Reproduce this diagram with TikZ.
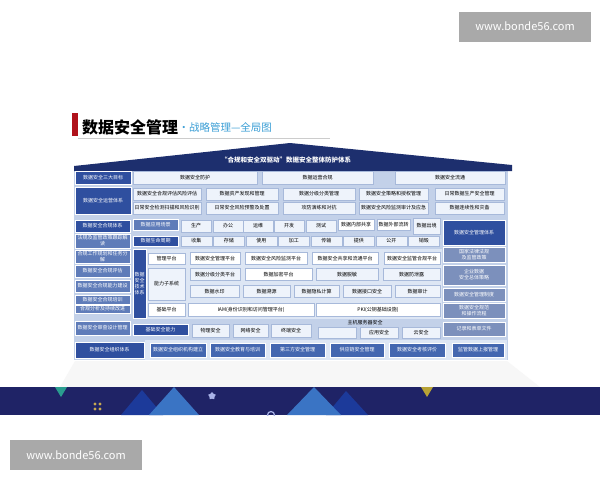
\documentclass[tikz,border=0pt]{standalone}
\usepackage{fontspec}
\setmainfont{Noto Sans CJK SC}
\usetikzlibrary{shapes.geometric}

\definecolor{headblue}{HTML}{2F4F9F}
\definecolor{sideblue}{HTML}{5F7CB9}
\definecolor{rightgray}{HTML}{7C90BC}
\definecolor{orgblue}{HTML}{4467B0}
\definecolor{bodybg}{HTML}{C3D1E9}
\definecolor{panelbg}{HTML}{DDE6F4}
\definecolor{cellfill}{HTML}{EEF3FB}
\definecolor{cellline}{HTML}{A7B9DA}
\definecolor{roofblue}{HTML}{1D2F6E}
\definecolor{footnavy}{HTML}{1F2366}
\definecolor{titleblue}{HTML}{3C9FD6}
\definecolor{wmgray}{HTML}{A9A9A9}
\definecolor{titlered}{HTML}{B0121B}
\definecolor{decoteal}{HTML}{2A9D8F}
\definecolor{decoolive}{HTML}{B8A336}
\definecolor{decodark}{HTML}{1C3A9A}
\definecolor{decolight}{HTML}{3A74C4}
\definecolor{decogold}{HTML}{C8A951}
\definecolor{decolilac}{HTML}{A9B3E8}
\newcommand{\cellfont}{\fontsize{5}{6}\selectfont}

\begin{document}
\begin{tikzpicture}[x=1pt,y=-1pt]
\tikzstyle{every node}+=[inner sep=0pt]
\tikzstyle{cell}=[rectangle, draw=cellline, fill=cellfill, font=\cellfont, align=center, minimum height=12pt]
\tikzstyle{whitecell}=[cell, fill=white]
\tikzstyle{headbox}=[rectangle, draw=white, fill=headblue, text=white, font=\cellfont, align=center]
\tikzstyle{sidebox}=[rectangle, draw=white, fill=sideblue, text=white, font=\cellfont, align=center]
\tikzstyle{rightbox}=[rectangle, draw=white, fill=rightgray, text=white, font=\cellfont, align=center]
\tikzstyle{orgbox}=[rectangle, draw=white, fill=orgblue, text=white, font=\cellfont, minimum height=14pt]
\tikzstyle{watermark}=[rectangle, fill=wmgray, text=white, font=\fontsize{11}{13}\selectfont, minimum width=132pt, minimum height=30pt]
\useasboundingbox (0,0) rectangle (600,480);
\fill[white] (0,0) rectangle (600,480);

% watermarks
\node[watermark] (wmtop) at (525,26.5) {www.bonde56.com};
\node[watermark] (wmbottom) at (76,455) {www.bonde56.com};

% title
\fill[titlered] (72,113) rectangle (78,136);
\node[anchor=west, font=\fontsize{16}{18}\selectfont\bfseries] (title) at (82,127.5) {数据安全管理};
\node[anchor=west, text=titleblue, font=\fontsize{10.5}{12}\selectfont] (subtitle) at (title.east) {•战略管理—全局图};
\draw[gray!40, line width=0.8pt] (78,138.5) -- (330,138.5);

% roof and body
\fill[bodybg] (74,168) rectangle (508,360);
\fill[roofblue] (74,171) -- (74,166) -- (290,143) -- (512,165) -- (512,171) -- cycle;
\node[text=white, font=\fontsize{6.5}{8}\selectfont\bfseries] (roof) at (286,160) {“合规和安全双驱动”数据安全整体防护体系};

% goals
\node[headbox, minimum width=56pt, minimum height=13pt] (goal) at (103,177.5) {数据安全三大目标};
\node[cell, minimum width=124pt, minimum height=13pt] (goal1) at (195,177.5) {数据安全防护};
\node[cell, minimum width=111pt, minimum height=13pt] (goal2) at (317.5,177.5) {数据运营合规};
\node[cell, minimum width=110pt, minimum height=13pt] (goal3) at (450,177.5) {数据安全流通};

% operation system
\node[headbox, minimum width=56pt, minimum height=27pt] (ops) at (103,200.5) {数据安全运营体系};
\node[cell, minimum width=68pt] (ops1) at (167,194) {数据安全合规评估风险评估};
\node[cell, minimum width=72pt] (ops2) at (242,194) {数据资产发现和管理};
\node[cell, minimum width=72pt] (ops3) at (319,194) {数据分级分类管理};
\node[cell, minimum width=69pt] (ops4) at (393.5,194) {数据安全策略和授权管理};
\node[cell, minimum width=69pt] (ops5) at (469.5,194) {日常数据生产安全管理};
\node[cell, minimum width=68pt] (ops6) at (167,208) {日常安全检测扫描和风险识别};
\node[cell, minimum width=72pt] (ops7) at (242,208) {日常安全风险预警及处置};
\node[cell, minimum width=72pt] (ops8) at (319,208) {攻防演练和对抗};
\node[cell, minimum width=69pt] (ops9) at (393.5,208) {数据安全风险监测审计及应急};
\node[cell, minimum width=69pt] (ops10) at (469.5,208) {数据连续性和灾备};

% compliance column
\node[headbox, minimum width=55pt, minimum height=12pt] (comp) at (102.5,226) {数据安全合规体系};
\node[sidebox, minimum width=55pt, minimum height=14pt] (comp1) at (102.5,241) {法规及监管政策跟踪解\\读};
\node[sidebox, minimum width=55pt, minimum height=13pt] (comp2) at (102.5,256.5) {合规工作规划和任务分\\解};
\node[sidebox, minimum width=55pt, minimum height=12pt] (comp3) at (102.5,271) {数据安全合规评估};
\node[sidebox, minimum width=55pt, minimum height=12pt] (comp4) at (102.5,286) {数据安全合规能力建设};
\node[sidebox, minimum width=55pt, minimum height=9pt] (comp5) at (102.5,299.5) {数据安全合规培训};
\node[sidebox, minimum width=55pt, minimum height=8pt] (comp6) at (102.5,309) {合规分析及持续改进};
\node[sidebox, minimum width=55pt, minimum height=14pt] (comp7) at (102.5,328) {数据安全审查设计管理};

% scenes and life cycle
\node[sidebox, minimum width=45pt, minimum height=11pt] (scene) at (155.5,224.5) {数据应用场景};
\foreach \name/\cx [count=\i] in {生产/196, 办公/228, 运维/258, 开发/289, 测试/321}
  \node[cell, minimum width=30pt] (scene\i) at (\cx,226) {\name};
\node[whitecell, minimum width=36pt, minimum height=11pt] (share) at (356,224.5) {数据内部共享};
\node[whitecell, minimum width=33pt, minimum height=11pt] (transfer) at (393.5,224.5) {数据外部流转};
\node[cell, minimum width=27pt, minimum height=16pt] (export) at (426.5,226) {数据出境};
\node[headbox, minimum width=45pt, minimum height=10pt] (life) at (155.5,241) {数据生命周期};
\foreach \name [count=\i] in {收集, 存储, 使用, 加工, 传输, 提供, 公开, 销毁}
  \node[cell, minimum width=31pt, minimum height=10pt] (life\i) at (196.25+32.5*\i-32.5,241) {\name};

% technology system
\fill[panelbg] (146,249) rectangle (442,319);
\node[headbox, minimum width=13pt, minimum height=69pt] (tech) at (139.5,283.5) {数据\\安全\\技术\\体系};
\node[whitecell, minimum width=37pt, minimum height=11pt] (mgmt) at (166.5,258.5) {管理平台};
\node[whitecell, minimum width=50pt] (mgmt1) at (215,258.5) {数据安全管理平台};
\node[whitecell, minimum width=62pt] (mgmt2) at (276,258.5) {数据安全风险监测平台};
\node[whitecell, minimum width=66pt] (mgmt3) at (345,258.5) {数据安全共享和流通平台};
\node[whitecell, minimum width=56pt] (mgmt4) at (412,258.5) {数据安全监管合规平台};
\node[cell, minimum width=37pt, minimum height=32pt] (cap) at (166.5,284) {能力子系统};
\node[cell, minimum width=50pt] (cap1) at (215,274.5) {数据分级分类平台};
\node[whitecell, minimum width=67pt] (cap2) at (278.5,274.5) {数据加密平台};
\node[cell, minimum width=62pt] (cap3) at (347,274.5) {数据脱敏};
\node[cell, minimum width=57pt] (cap4) at (411.5,274.5) {数据防泄露};
\node[cell, minimum width=49pt] (cap5) at (214.5,291.5) {数据水印};
\node[cell, minimum width=47pt] (cap6) at (266.5,291.5) {数据溯源};
\node[cell, minimum width=45pt] (cap7) at (316.5,291.5) {数据隐私计算};
\node[cell, minimum width=48pt] (cap8) at (367,291.5) {数据接口安全};
\node[cell, minimum width=45pt] (cap9) at (417.5,291.5) {数据审计};
\node[whitecell, minimum width=37pt, minimum height=13pt] (base) at (166.5,309.5) {基础平台};
\node[whitecell, minimum width=126pt, minimum height=13pt] (iam) at (251,309.5) {IAM(身份识别和访问管理平台)};
\node[whitecell, minimum width=124pt, minimum height=13pt] (pki) at (378,309.5) {PKI(公钥基础设施)};

% basic security
\node[headbox, minimum width=55pt, minimum height=11pt] (basic) at (160.5,329.5) {基础安全能力};
\node[cell, minimum width=37pt, minimum height=13pt] (basic1) at (210.5,330.5) {物理安全};
\node[cell, minimum width=35pt, minimum height=13pt] (basic2) at (250.5,330.5) {网络安全};
\node[cell, minimum width=40pt, minimum height=13pt] (basic3) at (291,330.5) {终端安全};
\node[font=\cellfont] (host) at (365,322.5) {主机服务器安全};
\node[cell, minimum width=38pt, minimum height=11pt] (basic4) at (337,332.5) {};
\node[cell, minimum width=38pt, minimum height=11pt] (basic5) at (379,332.5) {应用安全};
\node[cell, minimum width=38pt, minimum height=11pt] (basic6) at (421,332.5) {云安全};

% management column
\node[headbox, minimum width=62pt, minimum height=25pt] (man) at (474,232.5) {数据安全管理体系};
\node[rightbox, minimum width=62pt, minimum height=15pt] (man1) at (474,254.5) {国家法律法规\\及监管政策};
\node[rightbox, minimum width=62pt, minimum height=20pt] (man2) at (474,275) {企业数据\\安全总体策略};
\node[rightbox, minimum width=62pt, minimum height=13pt] (man3) at (474,294.5) {数据安全管理制度};
\node[rightbox, minimum width=62pt, minimum height=15pt] (man4) at (474,310.5) {数据安全规范\\和操作流程};
\node[rightbox, minimum width=62pt, minimum height=14pt] (man5) at (474,329) {记录和表单文件};

% organisation
\fill[panelbg] (145,340) rectangle (507,360);
\node[headbox, minimum width=69pt, minimum height=16pt] (org) at (109.5,350) {数据安全组织体系};
\node[orgbox, minimum width=56pt] (org1) at (178,350) {数据安全组织机构建立};
\node[orgbox, minimum width=55pt] (org2) at (237.5,350) {数据安全教育与培训};
\node[orgbox, minimum width=55pt] (org3) at (297.5,350) {第三方安全管理};
\node[orgbox, minimum width=54pt] (org4) at (357,350) {供应链安全管理};
\node[orgbox, minimum width=56pt] (org5) at (417,350) {数据安全考核评价};
\node[orgbox, minimum width=52pt] (org6) at (478,350) {监管数据上报管理};

% footer
\fill[gray!6] (60,387) -- (75,361) -- (507,361) -- (540,387) -- cycle;
\fill[footnavy] (0,387) rectangle (600,415);
\fill[decoteal] (55,387) -- (67,387) -- (61,397) -- cycle;
\fill[decoolive] (421,387) -- (433,387) -- (427,397) -- cycle;
\fill[decodark] (121,415) -- (142,390) -- (163,415) -- cycle;
\fill[decolight] (149,415) -- (174,387) -- (199,415) -- cycle;
\fill[decodark] (326,415) -- (346,391) -- (368,415) -- cycle;
\fill[decolight] (287,415) -- (314,387) -- (341,415) -- cycle;
\foreach \dx in {0,5}
  \foreach \dy in {0,5}
    \fill[decogold] (95+\dx,404+\dy) circle (1.6);
\node[star, star points=5, fill=decolilac, minimum size=8pt] (star) at (212,396) {};
\begin{scope}
\clip (0,387) rectangle (600,415);
\draw[decolilac, line width=1.2pt] (271,415) circle (3.5);
\end{scope}
\end{tikzpicture}
\end{document}
